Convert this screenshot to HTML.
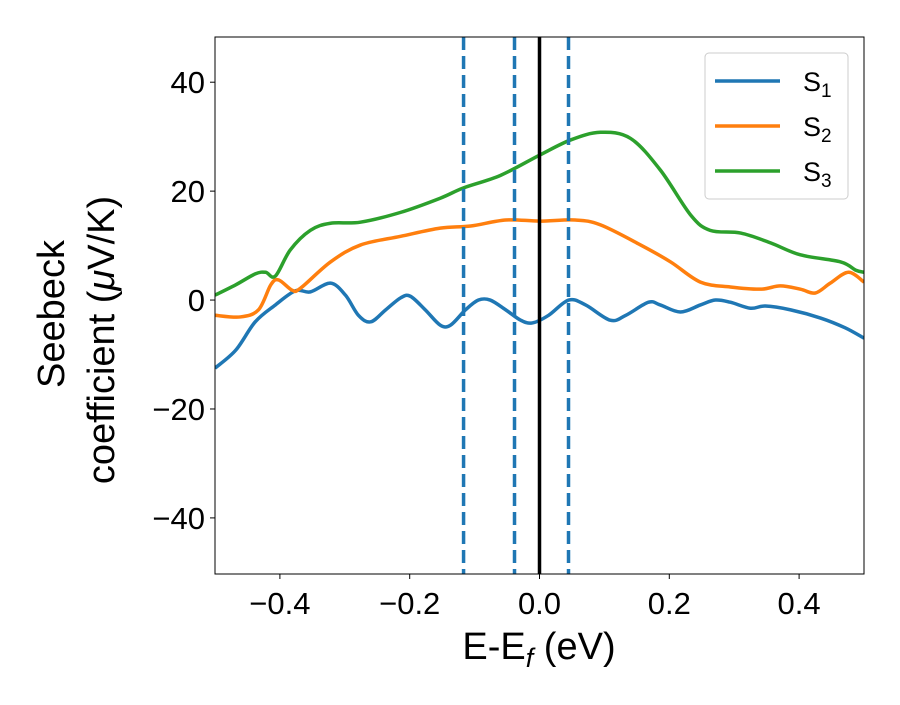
<!DOCTYPE html>
<html><head><meta charset="utf-8"><style>
body{margin:0;background:#fff;position:relative}
svg text{font-family:"Liberation Sans","DejaVu Sans",sans-serif;fill:#000}
</style></head><body>
<svg id="chart" width="900" height="700"></svg>
<script>
const xTicks=[-0.4,-0.2,0.0,0.2,0.4];
const xTickLabels=["\u22120.4","\u22120.2","0.0","0.2","0.4"];
const yTicks=[-40,-20,0,20,40];
const yTickLabels=["\u221240","\u221220","0","20","40"];
const vLinesDashed=[-0.117,-0.0385,0.0447];
const vLineSolid=[0];
const s1X=[-0.5,-0.468,-0.438,-0.407,-0.376,-0.353,-0.322,-0.299,-0.279,-0.26,-0.237,-0.214,-0.199,-0.176,-0.153,-0.137,-0.114,-0.094,-0.076,-0.052,-0.029,-0.011,0.014,0.045,0.071,0.109,0.133,0.168,0.186,0.217,0.248,0.271,0.294,0.325,0.348,0.387,0.433,0.471,0.5];
const s1Y=[-12.5,-9.2,-4,-0.9,1.7,1.5,3.1,0.9,-2.8,-4,-1.8,0.4,0.7,-1.8,-4.6,-4.6,-1.8,0,0,-1.8,-3.7,-4.2,-2.8,0,-0.9,-3.7,-2.8,-0.4,-0.9,-2.2,-0.9,0,-0.4,-1.5,-1.1,-1.8,-3.3,-5.1,-7];
const s2X=[-0.5,-0.461,-0.433,-0.414,-0.402,-0.381,-0.368,-0.322,-0.276,-0.214,-0.153,-0.106,-0.052,0,0.055,0.094,0.156,0.202,0.248,0.294,0.341,0.371,0.402,0.425,0.448,0.476,0.5];
const s2Y=[-2.8,-3.1,-1.8,2.8,3.7,1.8,2.2,7,10.1,11.7,13.2,13.6,14.7,14.5,14.7,13.8,10.1,7,3.3,2.4,2,2.6,2,1.3,3.1,5.1,3.3];
const s3X=[-0.5,-0.468,-0.438,-0.422,-0.407,-0.384,-0.353,-0.322,-0.276,-0.214,-0.153,-0.117,-0.06,0,0.048,0.094,0.14,0.186,0.233,0.263,0.31,0.356,0.402,0.464,0.487,0.5];
const s3Y=[0.9,2.8,4.8,5.1,4.4,9.2,12.8,14.1,14.3,16.1,18.7,20.6,22.9,26.6,29.4,30.8,29.7,23.9,15.6,12.8,12.3,10.5,8.3,7,5.5,5.1];
const seriesNames=["S1","S2","S3"];

const L=215,R=864,T=37,B=574;
const xMin=-0.5,xMax=0.5,yMin=-50.3,yMax=48.3;
const sx=v=>L+(v-xMin)/(xMax-xMin)*(R-L);
const sy=v=>B-(v-yMin)/(yMax-yMin)*(B-T);
const svg=document.getElementById('chart');
const NS='http://www.w3.org/2000/svg';
function mk(tag,attrs,parent){const e=document.createElementNS(NS,tag);for(const k in attrs)e.setAttribute(k,attrs[k]);(parent||svg).appendChild(e);return e;}

const defs=mk('defs',{});
const cp=mk('clipPath',{id:'clip'},defs);
mk('rect',{x:L,y:T,width:R-L,height:B-T},cp);

function smooth(xs,ys){
  const p=xs.map((x,i)=>[sx(x),sy(ys[i])]);
  let d='M'+p[0][0]+','+p[0][1];
  for(let i=0;i<p.length-1;i++){
    const p0=p[Math.max(0,i-1)],p1=p[i],p2=p[i+1],p3=p[Math.min(p.length-1,i+2)];
    const c1=[p1[0]+(p2[0]-p0[0])/6,p1[1]+(p2[1]-p0[1])/6];
    const c2=[p2[0]-(p3[0]-p1[0])/6,p2[1]-(p3[1]-p1[1])/6];
    d+=`C${c1[0]},${c1[1]} ${c2[0]},${c2[1]} ${p2[0]},${p2[1]}`;
  }
  return d;
}
const g=mk('g',{'clip-path':'url(#clip)'});
const cols=['#1f77b4','#ff7f0e','#2ca02c'];
[[s1X,s1Y],[s2X,s2Y],[s3X,s3Y]].forEach((s,i)=>{
  const p=mk('path',{d:smooth(s[0],s[1]),fill:'none',stroke:cols[i],'stroke-width':3.5},g);
  
  
});
vLinesDashed.forEach(v=>{
  const l=mk('line',{x1:sx(v),x2:sx(v),y1:T,y2:B,stroke:'#1f77b4','stroke-width':3.5,'stroke-dasharray':'13,6'},g);
  
  
});
vLineSolid.forEach(v=>{
  const l=mk('line',{x1:sx(v),x2:sx(v),y1:T,y2:B,stroke:'#000','stroke-width':3.5},g);
  
  
});
const frame=mk('rect',{x:L,y:T,width:R-L,height:B-T,fill:'none',stroke:'#000','stroke-width':1});



xTicks.forEach((v,i)=>{
  mk('line',{x1:sx(v),x2:sx(v),y1:B,y2:B+5,stroke:'#000'});
  const t=mk('text',{x:sx(v),y:B+40,'font-size':31,'text-anchor':'middle'});
  t.textContent=xTickLabels[i];
  
  
});
yTicks.forEach((v,i)=>{
  mk('line',{x1:L-5,x2:L,y1:sy(v),y2:sy(v),stroke:'#000'});
  const t=mk('text',{x:L-10,y:sy(v)+11,'font-size':31,'text-anchor':'end'});
  t.textContent=yTickLabels[i];
  
  
});
</script>
<svg width="900" height="700" style="position:absolute;left:0;top:0">
<text x="539" y="659" font-size="38" text-anchor="middle">E-E<tspan font-style="italic" font-size="27" dy="8">f</tspan><tspan dy="-8"> (eV)</tspan></text>
<g>
<text transform="translate(64,314) rotate(-90)" x="0" y="0" font-size="38" text-anchor="middle">Seebeck</text>
<text transform="translate(114,340) rotate(-90)" x="0" y="0" font-size="38" text-anchor="middle">coefficient (<tspan font-style="italic">μ</tspan>V/K)</text>
</g>
<g>
<rect x="705" y="53" width="143" height="146" rx="4" fill="#fff" stroke="#ccc" stroke-width="1"/>
<line x1="715" x2="780" y1="81" y2="81" stroke="#1f77b4" stroke-width="3.5"/>
<text x="803" y="91" font-size="27">S<tspan font-size="19" dy="6">1</tspan></text>
<line x1="715" x2="780" y1="126" y2="126" stroke="#ff7f0e" stroke-width="3.5"/>
<text x="803" y="136" font-size="27">S<tspan font-size="19" dy="6">2</tspan></text>
<line x1="715" x2="780" y1="171" y2="171" stroke="#2ca02c" stroke-width="3.5"/>
<text x="803" y="181" font-size="27">S<tspan font-size="19" dy="6">3</tspan></text>
</g>
</svg>
</body></html>
